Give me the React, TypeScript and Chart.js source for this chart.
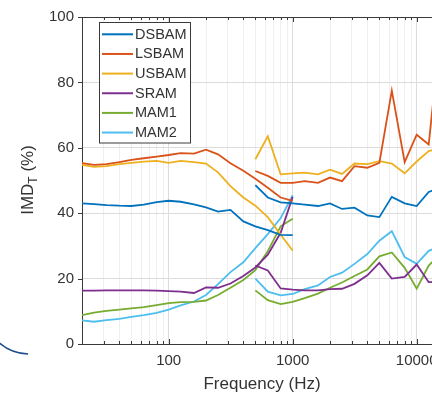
import React, { useEffect, useRef } from "react";
import { Chart, registerables } from "chart.js";

Chart.register(...registerables);

// ---------- data ----------
const freqLow = [20, 25, 31.5, 40, 50, 63, 80, 100, 125, 160, 200, 250, 315, 400, 500, 630, 800, 1000];
const freqHigh = [500, 630, 800, 1000, 1250, 1600, 2000, 2500, 3150, 4000, 5000, 6300, 8000, 10000, 12500, 16000];

const seriesNames = ["DSBAM", "LSBAM", "USBAM", "SRAM", "MAM1", "MAM2"];
const seriesColors = ["#0072BD", "#D95319", "#EDB120", "#7E2F8E", "#77AC30", "#4DBEEE"];

const dsbamLow = [43, 42.8, 42.5, 42.3, 42.2, 42.6, 43.4, 43.8, 43.5, 42.7, 41.8, 40.5, 41, 37.5, 36, 34.8, 33.4, 33.3];
const dsbamHigh = [48.6, 44.8, 43.3, 43, 42.6, 42.2, 43, 41.3, 41.7, 39.3, 38.8, 45, 43, 42.2, 46.5, 48];

const lsbamLow = [55.3, 54.8, 55, 55.6, 56.3, 56.8, 57.3, 57.8, 58.4, 58.2, 59.4, 58, 55.3, 53, 50.5, 47.8, 44.8, 43.8];
const lsbamHigh = [52.9, 51.4, 49.3, 49.3, 49.8, 49.3, 50.9, 49.8, 54.4, 53.9, 55.4, 77.5, 55.6, 64, 61, 100];

const usbamLow = [54.8, 54.2, 54.4, 55, 55.4, 55.8, 56, 55.4, 56, 55.6, 55.2, 52.5, 48.3, 44.8, 42.3, 38.8, 33.4, 28.6];
const usbamHigh = [56.5, 63.5, 51.9, 52.2, 52.4, 51.9, 53.3, 52, 55.2, 55, 55.9, 55.2, 52.2, 55.8, 59, 60];

const sramLow = [16.3, 16.3, 16.4, 16.4, 16.4, 16.4, 16.3, 16.2, 16, 15.6, 17.3, 17.2, 18.5, 20.8, 23.4, 27.3, 34, 45];
const sramHigh = [24, 22.5, 17, 16.6, 16.4, 16.4, 16.8, 16.9, 18.4, 21, 24.8, 20, 20.5, 24.3, 18.9, 19];

const mam1Low = [8.8, 9.6, 10.1, 10.5, 10.9, 11.3, 11.9, 12.5, 12.8, 12.9, 13.3, 15, 17.2, 19.6, 22.6, 28.4, 36, 38.3];
const mam1High = [16.4, 13.4, 12.2, 12.9, 14, 15.4, 17.2, 18.8, 20.8, 22.8, 26.8, 28, 23.3, 16.9, 24, 28];

const mam2Low = [7.2, 6.8, 7.3, 7.7, 8.3, 8.8, 9.5, 10.5, 11.8, 13, 15, 18.3, 22, 25, 29.3, 33.6, 38.5, 45.5];
const mam2High = [20, 16, 14.9, 15.3, 16.8, 17.9, 20.5, 21.8, 24.5, 27.5, 31.6, 34.5, 26.6, 24.5, 28.5, 30];

const lowValues = [dsbamLow, lsbamLow, usbamLow, sramLow, mam1Low, mam2Low];
const highValues = [dsbamHigh, lsbamHigh, usbamHigh, sramHigh, mam1High, mam2High];

const xMin = 20;
const xMax = 16000;
const xTickValues = [
  30, 40, 50, 60, 70, 80, 90, 100, 200, 300, 400, 500, 600, 700, 800, 900,
  1000, 2000, 3000, 4000, 5000, 6000, 7000, 8000, 9000, 10000,
];
const xTickLabels = [100, 1000, 10000];
const yTickValues = [0, 20, 40, 60, 80, 100];

const xTitle = "Frequency (Hz)";
const yTitleMain = "IMD";
const yTitleSub = "T";
const yTitleTail = " (%)";

const FONT = "'Liberation Sans', Arial, Helvetica, sans-serif";
const TEXT = "#333333";
const AXIS = "#3a3a3a";

const decorPlugin = {
  id: "decor",
  afterDatasetsDraw(chart: any) {
    const { ctx, chartArea } = chart;
    const { left, right, top, bottom } = chartArea;
    const xs = chart.scales.x;
    const ys = chart.scales.y;
    ctx.save();
    // top border
    ctx.strokeStyle = AXIS;
    ctx.lineWidth = 1;
    ctx.beginPath();
    ctx.moveTo(left, top + 0.5);
    ctx.lineTo(right, top + 0.5);
    ctx.stroke();
    // x ticks (inward, bottom and top)
    xTickValues.forEach((v) => {
      const px = Math.round(xs.getPixelForValue(v)) + 0.5;
      const len = xTickLabels.includes(v) ? 5 : 3;
      ctx.beginPath();
      ctx.moveTo(px, bottom);
      ctx.lineTo(px, bottom - len);
      ctx.moveTo(px, top);
      ctx.lineTo(px, top + len);
      ctx.stroke();
    });
    // y ticks (outward)
    yTickValues.forEach((v) => {
      const py = Math.round(ys.getPixelForValue(v)) + 0.5;
      ctx.beginPath();
      ctx.moveTo(left, py);
      ctx.lineTo(left - 4, py);
      ctx.stroke();
    });

    // legend
    const bx = 99.5, by = 22.5, bw = 91, bh = 120.5;
    ctx.fillStyle = "#ffffff";
    ctx.fillRect(bx, by, bw, bh);
    ctx.strokeStyle = AXIS;
    ctx.strokeRect(bx, by, bw, bh);
    ctx.font = `14.5px ${FONT}`;
    ctx.textBaseline = "middle";
    ctx.textAlign = "left";
    seriesNames.forEach((name, i) => {
      const ry = 34.3 + i * 19.65;
      ctx.strokeStyle = seriesColors[i];
      ctx.lineWidth = 2;
      ctx.beginPath();
      ctx.moveTo(102, ry);
      ctx.lineTo(133, ry);
      ctx.stroke();
      ctx.fillStyle = TEXT;
      ctx.fillText(name, 135, ry + 0.5);
    });

    // x title
    ctx.fillStyle = TEXT;
    ctx.font = `17px ${FONT}`;
    ctx.textAlign = "center";
    ctx.textBaseline = "alphabetic";
    ctx.fillText(xTitle, (left + right) / 2, 388.5);

    // y title (rotated, with subscript)
    ctx.save();
    ctx.translate(33, 180);
    ctx.rotate(-Math.PI / 2);
    const mainFont = `17px ${FONT}`;
    const subFont = `12px ${FONT}`;
    ctx.font = mainFont;
    const w1 = ctx.measureText(yTitleMain).width;
    const w3 = ctx.measureText(yTitleTail).width;
    ctx.font = subFont;
    const w2 = ctx.measureText(yTitleSub).width;
    const total = w1 + w2 + w3;
    let x0 = -total / 2;
    ctx.textAlign = "left";
    ctx.font = mainFont;
    ctx.fillText(yTitleMain, x0, 0);
    x0 += w1;
    ctx.font = subFont;
    ctx.fillText(yTitleSub, x0, 3.5);
    x0 += w2;
    ctx.font = mainFont;
    ctx.fillText(yTitleTail, x0, 0);
    ctx.restore();

    // stray arc at bottom-left of the picture
    ctx.strokeStyle = "#1f4e8c";
    ctx.lineWidth = 1.5;
    ctx.beginPath();
    ctx.arc(30, 306.6, 47.4, 1.61, 2.45);
    ctx.stroke();

    ctx.restore();
  },
};

export default function App() {
  const canvasRef = useRef<HTMLCanvasElement | null>(null);

  useEffect(() => {
    const canvas = canvasRef.current;
    if (!canvas) return;
    const datasets: any[] = [];
    seriesNames.forEach((name, i) => {
      datasets.push({
        label: name,
        data: freqLow.map((f, j) => ({ x: f, y: lowValues[i][j] })),
        borderColor: seriesColors[i],
        backgroundColor: seriesColors[i],
        borderWidth: 1.8,
        pointRadius: 0,
        tension: 0,
        fill: false,
      });
      datasets.push({
        label: name,
        data: freqHigh.map((f, j) => ({ x: f, y: highValues[i][j] })),
        borderColor: seriesColors[i],
        backgroundColor: seriesColors[i],
        borderWidth: 1.8,
        pointRadius: 0,
        tension: 0,
        fill: false,
      });
    });

    const chart = new Chart(canvas, {
      type: "line",
      data: { datasets },
      options: {
        responsive: false,
        animation: false,
        layout: { padding: { left: 0, right: 28, top: 15, bottom: 0 } },
        plugins: { legend: { display: false }, tooltip: { enabled: false } },
        scales: {
          x: {
            type: "logarithmic",
            min: xMin,
            max: xMax,
            afterBuildTicks: (s: any) => {
              s.ticks = xTickValues.map((v) => ({ value: v }));
            },
            afterFit: (s: any) => {
              s.height = 49;
            },
            grid: {
              drawTicks: false,
              color: (c: any) =>
                xTickLabels.includes(c.tick?.value) ? "#dcdcdc" : "#efefef",
              lineWidth: 1,
            },
            border: { display: true, color: AXIS, width: 1 },
            ticks: {
              autoSkip: false,
              maxRotation: 0,
              minRotation: 0,
              padding: 8,
              color: TEXT,
              font: { family: FONT, size: 15 },
              callback: (v: any) => (xTickLabels.includes(Number(v)) ? String(v) : ""),
            },
          },
          y: {
            min: 0,
            max: 100,
            afterBuildTicks: (s: any) => {
              s.ticks = yTickValues.map((v) => ({ value: v }));
            },
            afterFit: (s: any) => {
              s.width = 82;
            },
            grid: {
              drawTicks: false,
              color: (c: any) =>
                c.tick?.value === 0 || c.tick?.value === 100 ? "rgba(0,0,0,0)" : "#dcdcdc",
              lineWidth: 1,
            },
            border: { display: true, color: AXIS, width: 1 },
            ticks: {
              padding: 8,
              color: TEXT,
              font: { family: FONT, size: 15 },
              callback: (v: any) => String(v),
            },
          },
        },
      },
      plugins: [decorPlugin],
    });
    return () => chart.destroy();
  }, []);

  return (
    <div
      style={{
        position: "fixed",
        left: 0,
        top: 0,
        width: 432,
        height: 393,
        overflow: "hidden",
        background: "#ffffff",
      }}
    >
      <canvas ref={canvasRef} width={470} height={393} style={{ display: "block" }} />
    </div>
  );
}
